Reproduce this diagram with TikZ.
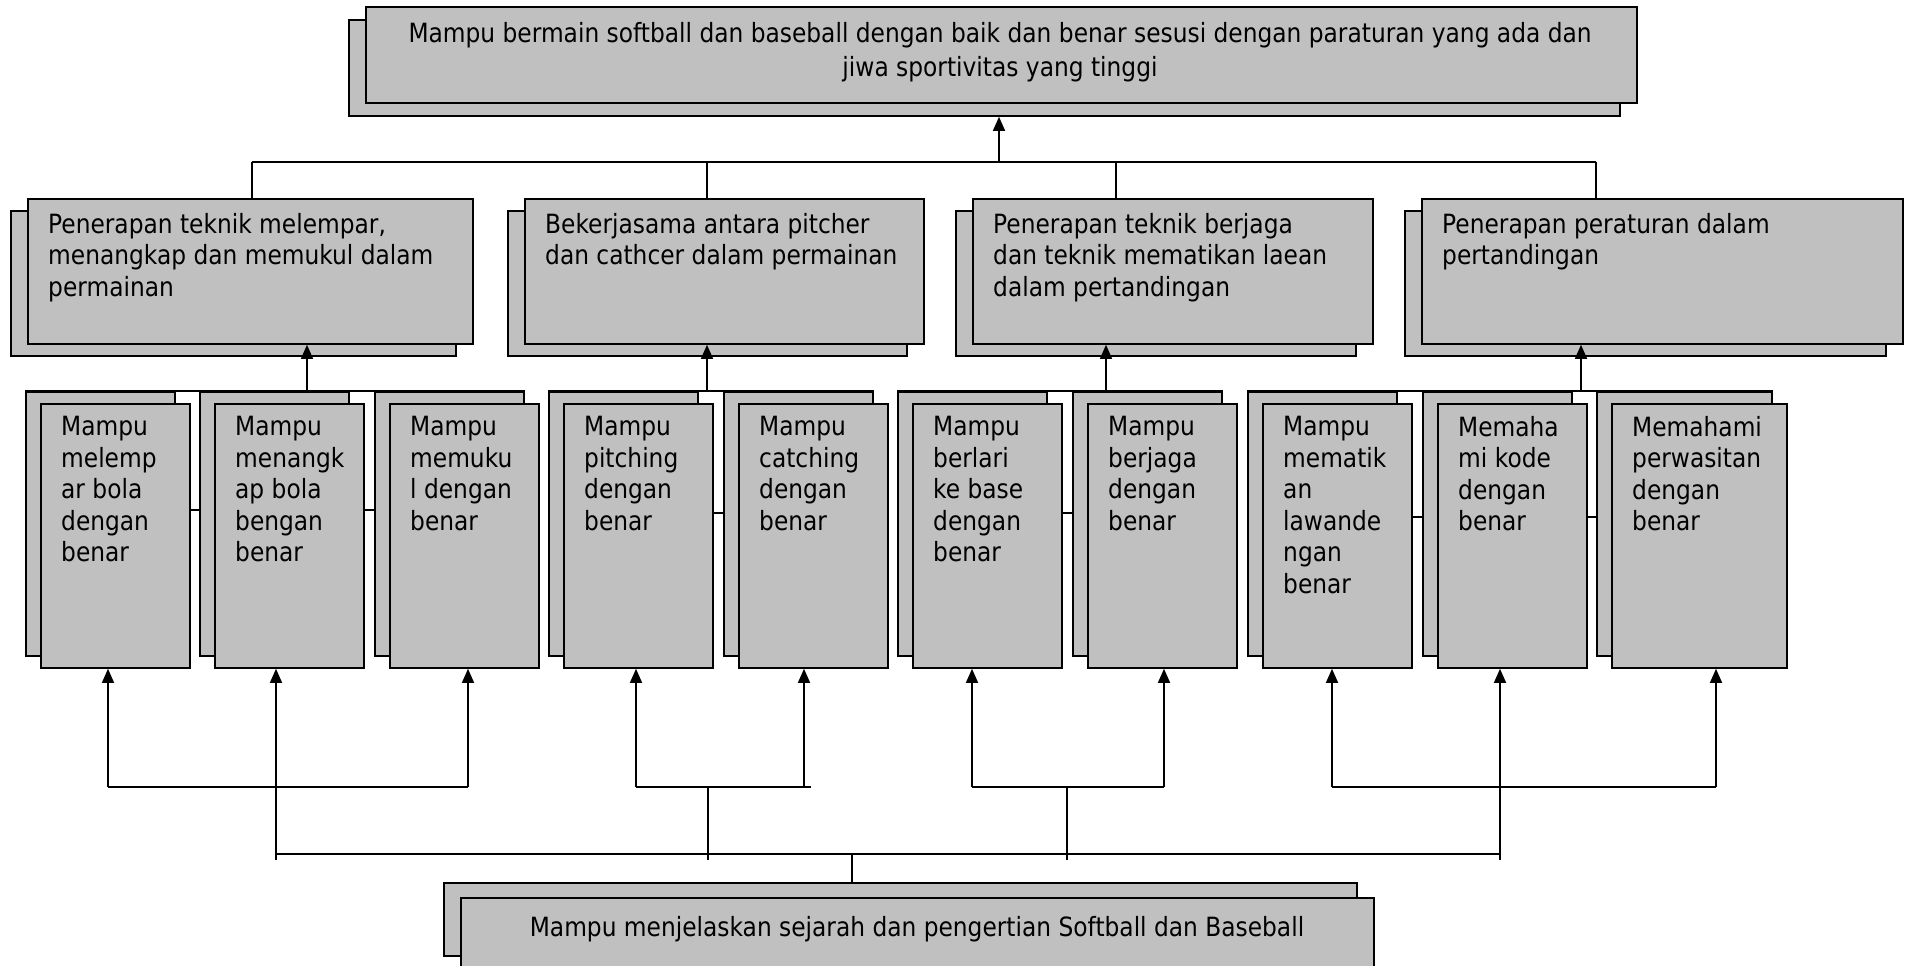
\documentclass[tikz,border=0pt]{standalone}
\usepackage{fontspec}
\newfontfamily\diafont[FakeStretch=0.88]{DejaVu Sans}
\usetikzlibrary{arrows.meta}
\definecolor{boxgray}{RGB}{192,192,192}
\pgfdeclarelayer{background}
\pgfsetlayers{background,main}
\tikzset{
  conn/.style={line width=1.3pt, draw=black},
  arr/.style={conn, -{Triangle[length=14pt,width=12pt]}},
  bx/.style={draw=black, fill=boxgray, line width=1.8pt, rectangle, inner sep=0pt, anchor=north west},
  txt/.style={anchor=north west, inner sep=0pt, align=left, font=\diafont\fontsize{26.5}{31.5}\selectfont},
  ctxt/.style={anchor=north, inner sep=0pt, align=center, font=\diafont\fontsize{26.5}{34}\selectfont},
}
% level-3 box: #1 index, #2 front left x, #3 width, #4 text
\newcommand\Lthree[4]{%
  \node[bx,minimum width=#3pt,minimum height=264pt] (b#1B) at ({#2-15},391) {};
  \node[bx,minimum width=#3pt,minimum height=264pt] (b#1F) at (#2,403) {};
  \node[txt] (b#1T) at ({#2+21},416) {#4};
}
% level-2 box: #1 name, #2 front left x, #3 width, #4 text
\newcommand\Ltwo[4]{%
  \node[bx,minimum width=#3pt,minimum height=145pt] (#1B) at ({#2-17},210) {};
  \node[bx,minimum width=#3pt,minimum height=145pt] (#1F) at (#2,198) {};
  \node[txt] (#1T) at ({#2+21},213) {#4};
}
\begin{document}
\begin{tikzpicture}[x=1pt,y=-1pt]
\useasboundingbox (0,0) rectangle (1906,966);

% top box
\node[bx,minimum width=1271pt,minimum height=96pt] (topB) at (348,19) {};
\node[bx,minimum width=1271pt,minimum height=96pt] (topF) at (365,6) {};
\node[ctxt] (topT) at (1000,22) {Mampu bermain softball dan baseball dengan baik dan benar sesusi dengan paraturan yang ada dan\\jiwa sportivitas yang tinggi};

% level 2
\Ltwo{la}{27}{445}{Penerapan teknik melempar,\\menangkap dan memukul dalam\\permainan}
\Ltwo{lb}{524}{399}{Bekerjasama antara pitcher\\dan cathcer dalam permainan}
\Ltwo{lc}{972}{400}{Penerapan teknik berjaga\\dan teknik mematikan laean\\dalam pertandingan}
\Ltwo{ld}{1421}{481}{Penerapan peraturan dalam\\pertandingan}

% level 3
\Lthree{1}{40}{149}{Mampu\\melemp\\ar bola\\dengan\\benar}
\Lthree{2}{214}{149}{Mampu\\menangk\\ap bola\\bengan\\benar}
\Lthree{3}{389}{149}{Mampu\\memuku\\l dengan\\benar}
\Lthree{4}{563}{149}{Mampu\\pitching\\dengan\\benar}
\Lthree{5}{738}{149}{Mampu\\catching\\dengan\\benar}
\Lthree{6}{912}{149}{Mampu\\berlari\\ke base\\dengan\\benar}
\Lthree{7}{1087}{149}{Mampu\\berjaga\\dengan\\benar}
\Lthree{8}{1262}{149}{Mampu\\mematik\\an\\lawande\\ngan\\benar}
\Lthree{9}{1437}{149}{Memaha\\mi kode\\dengan\\benar}
\Lthree{10}{1611}{175}{Memahami\\perwasitan\\dengan\\benar}

% bottom box
\node[bx,minimum width=913pt,minimum height=73pt] (botB) at (443,882) {};
\node[bx,minimum width=913pt,minimum height=73pt] (botF) at (460,897) {};
\node[ctxt] (botT) at (917,916) {Mampu menjelaskan sejarah dan pengertian Softball dan Baseball};

% lines behind the level-3 boxes
\coordinate (mA1) at (110,510); \coordinate (mA2) at (470,510);
\coordinate (mB1) at (640,513); \coordinate (mB2) at (810,513);
\coordinate (mC1) at (990,513); \coordinate (mC2) at (1160,513);
\coordinate (mD1) at (1340,517); \coordinate (mD2) at (1700,517);
\begin{pgfonlayer}{background}
  \fill[white] (0,0) rectangle (1906,966);
  \draw[conn] (b1B.north west) -- (b3B.north east);
  \draw[conn] (b4B.north west) -- (b5B.north east);
  \draw[conn] (b6B.north west) -- (b7B.north east);
  \draw[conn] (b8B.north west) -- (b10B.north east);
  \draw[conn] (mA1) -- (mA2);
  \draw[conn] (mB1) -- (mB2);
  \draw[conn] (mC1) -- (mC2);
  \draw[conn] (mD1) -- (mD2);
\end{pgfonlayer}

% level 2 -> top
\coordinate (busL) at (252,162);
\coordinate (busR) at (1596,162);
\coordinate (busB) at (707,162);
\coordinate (busC) at (1116,162);
\coordinate (busT) at (999,162);
\draw[conn] (busL) -- (busR);
\draw[conn] (busL) -- (laF.north -| busL);
\draw[conn] (busB) -- (lbF.north -| busB);
\draw[conn] (busC) -- (lcF.north -| busC);
\draw[conn] (busR) -- (ldF.north -| busR);
\draw[arr] (busT) -- (topB.south -| busT);

% level 3 -> level 2
\coordinate (gA) at (307,391);
\coordinate (gB) at (707,391);
\coordinate (gC) at (1106,391);
\coordinate (gD) at (1581,391);
\draw[arr] (gA) -- (laF.south -| gA);
\draw[arr] (gB) -- (lbF.south -| gB);
\draw[arr] (gC) -- (lcF.south -| gC);
\draw[arr] (gD) -- (ldF.south -| gD);

% bottom -> level 3
\coordinate (p1) at (108,787);
\coordinate (p3) at (468,787);
\coordinate (p2) at (276,860);
\coordinate (p4) at (636,787);
\coordinate (p5) at (804,787);
\coordinate (p5e) at (811,787);
\coordinate (jB) at (708,787);
\coordinate (jBe) at (708,860);
\coordinate (p6) at (972,787);
\coordinate (p7) at (1164,787);
\coordinate (jC) at (1067,787);
\coordinate (jCe) at (1067,860);
\coordinate (p8) at (1332,787);
\coordinate (p10) at (1716,787);
\coordinate (p9) at (1500,860);
\coordinate (busBL) at (276,854);
\coordinate (busBR) at (1500,854);
\coordinate (jBot) at (852,854);

\draw[conn] (p1) -- (p3);
\draw[arr] (p1) -- (b1F.south -| p1);
\draw[arr] (p3) -- (b3F.south -| p3);
\draw[arr] (p2) -- (b2F.south -| p2);
\draw[conn] (p4) -- (p5e);
\draw[arr] (p4) -- (b4F.south -| p4);
\draw[arr] (p5) -- (b5F.south -| p5);
\draw[conn] (jB) -- (jBe);
\draw[conn] (p6) -- (p7);
\draw[arr] (p6) -- (b6F.south -| p6);
\draw[arr] (p7) -- (b7F.south -| p7);
\draw[conn] (jC) -- (jCe);
\draw[conn] (p8) -- (p10);
\draw[arr] (p8) -- (b8F.south -| p8);
\draw[arr] (p10) -- (b10F.south -| p10);
\draw[arr] (p9) -- (b9F.south -| p9);
\draw[conn] (busBL) -- (busBR);
\draw[conn] (jBot) -- (botB.north -| jBot);
\end{tikzpicture}
\end{document}
